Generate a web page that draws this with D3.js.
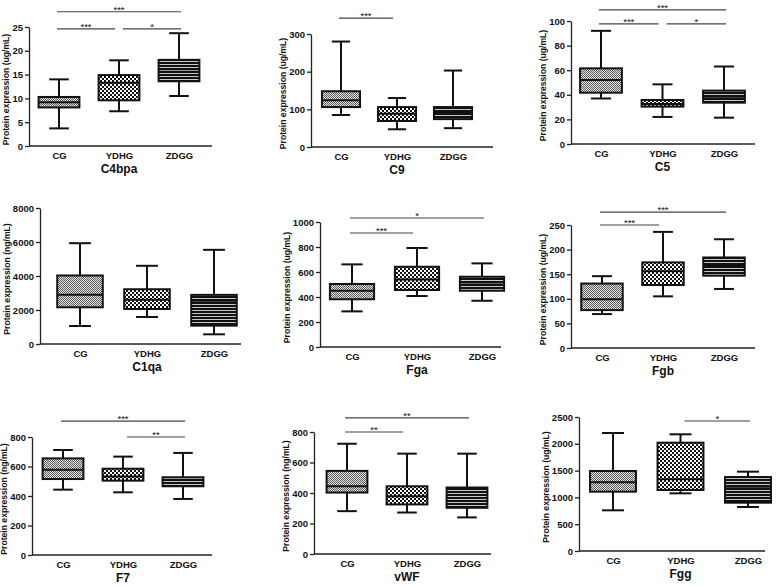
<!DOCTYPE html>
<html>
<head>
<meta charset="utf-8">
<script src="https://cdn.jsdelivr.net/npm/d3@7"></script>
<style>
  body { margin: 0; background: #fff; }
  svg { display: block; }
  text { font-family: "Liberation Sans", Arial, sans-serif; fill: #111; }
</style>
</head>
<body>
<svg id="fig" width="784" height="586"></svg>
<script>
// Groups and panels
const categories = ["CG", "YDHG", "ZDGG"];
const panelNames = ["C4bpa", "C9", "C5", "C1qa", "Fga", "Fgb", "F7", "vWF", "Fgg"];
const units = ["ug/mL", "ug/mL", "ug/mL", "ng/mL", "ug/mL", "ug/mL", "ng/mL", "ng/mL", "ug/mL"];

// y tick labels per panel
const yTicks = [
    [0, 5, 10, 15, 20, 25],
    [0, 100, 200, 300],
    [0, 20, 40, 60, 80, 100],
    [0, 2000, 4000, 6000, 8000],
    [0, 200, 400, 600, 800, 1000],
    [0, 50, 100, 150, 200, 250],
    [0, 200, 400, 600, 800],
    [0, 200, 400, 600, 800],
    [0, 500, 1000, 1500, 2000, 2500]
];

// box stats: [min, q1, median, q3, max] for CG, YDHG, ZDGG
const C4bpa = [[3.7, 8.1, 9.2, 10.3, 14.0], [7.3, 9.6, 13.3, 14.9, 18.0], [10.5, 13.6, 15.6, 18.1, 23.7]];
const C9 = [[85, 106, 124, 148, 280], [47, 69, 88, 106, 130], [50, 74, 90, 106, 203]];
const C5 = [[37, 41.7, 52, 61.5, 92], [22, 30.4, 32.5, 35.8, 48.5], [21.4, 33.6, 38.5, 43.4, 63]];
const C1qa = [[1060, 2160, 2890, 4030, 5930], [1590, 2060, 2600, 3220, 4600], [570, 1080, 2450, 2890, 5540]];
const Fga = [[285, 382, 450, 504, 661], [408, 456, 541, 642, 792], [370, 450, 501, 562, 669]];
const Fgb = [[69, 77, 99, 131, 146], [105, 128, 156, 174, 236], [120, 147, 167, 184, 221]];
const F7 = [[443, 515, 578, 655, 712], [425, 504, 533, 585, 667], [380, 466, 488, 527, 692]];
const vWF = [[281, 403, 444, 545, 723], [272, 325, 379, 444, 658], [240, 303, 368, 436, 658]];
const Fgg = [[759, 1107, 1281, 1493, 2201], [1076, 1138, 1337, 2021, 2177], [821, 901, 1200, 1380, 1480]];
const boxData = [C4bpa, C9, C5, C1qa, Fga, Fgb, F7, vWF, Fgg];

// significance bars: [from group, to group, stars, height in data units]
const sigBars = [
    [[0, 2, "***", 28.2], [0, 1, "***", 24.6], [1, 2, "*", 24.6]],
    [[0, 1, "***", 342]],
    [[0, 2, "***", 109], [0, 1, "***", 97.6], [1, 2, "*", 97.6]],
    [],
    [[0, 2, "*", 1032], [0, 1, "***", 912]],
    [[0, 2, "***", 276], [0, 1, "***", 250]],
    [[0, 2, "***", 908], [1, 2, "**", 800]],
    [[0, 2, "**", 892], [0, 1, "**", 800]],
    [[1, 2, "*", 2425]]
];

// where each panel sits on the page
const layout = [
    {ax: 29,  ae: 212, c0: 59,  c2: 179, y0: 146, yt: 27},
    {ax: 311, ae: 493, c0: 341, c2: 453, y0: 147, yt: 34},
    {ax: 571, ae: 755, c0: 601, c2: 724, y0: 144, yt: 21},
    {ax: 40,  ae: 241, c0: 80,  c2: 214, y0: 344, yt: 208},
    {ax: 320, ae: 501, c0: 352, c2: 482, y0: 347, yt: 222},
    {ax: 571, ae: 755, c0: 602, c2: 724, y0: 348, yt: 225},
    {ax: 32,  ae: 212, c0: 63,  c2: 183, y0: 555, yt: 437},
    {ax: 314, ae: 491, c0: 347, c2: 467, y0: 554, yt: 432},
    {ax: 579, ae: 765, c0: 613, c2: 748, y0: 551, yt: 417}
];

const svg = d3.select("#fig");
svg.append("rect").attr("width", 784).attr("height", 586).attr("fill", "#fff");

// Fill patterns for the three groups
const defs = svg.append("defs");

const pCG = defs.append("pattern").attr("id", "patCG")
    .attr("patternUnits", "userSpaceOnUse").attr("width", 2).attr("height", 2);
pCG.append("rect").attr("width", 2).attr("height", 2).attr("fill", "#e6e6e6");
pCG.append("rect").attr("x", 0).attr("y", 0).attr("width", 1).attr("height", 1).attr("fill", "#5a5a5a");
pCG.append("rect").attr("x", 1).attr("y", 1).attr("width", 1).attr("height", 1).attr("fill", "#5a5a5a");

const pYD = defs.append("pattern").attr("id", "patYD")
    .attr("patternUnits", "userSpaceOnUse").attr("width", 4).attr("height", 4);
pYD.append("rect").attr("width", 4).attr("height", 4).attr("fill", "#fff");
pYD.append("rect").attr("x", 0).attr("y", 0).attr("width", 2).attr("height", 2).attr("fill", "#111");
pYD.append("rect").attr("x", 2).attr("y", 2).attr("width", 2).attr("height", 2).attr("fill", "#111");

const pZD = defs.append("pattern").attr("id", "patZD")
    .attr("patternUnits", "userSpaceOnUse").attr("width", 4).attr("height", 3);
pZD.append("rect").attr("width", 4).attr("height", 3).attr("fill", "#111");
pZD.append("rect").attr("y", 1).attr("width", 4).attr("height", 1).attr("fill", "#c8c8c8");

const fills = ["url(#patCG)", "url(#patYD)", "url(#patZD)"];

function drawPanel(p) {
    const L = layout[p];
    const ticks = yTicks[p];
    const g = svg.append("g").attr("class", "panel");

    const y = d3.scaleLinear()
        .domain([0, ticks[ticks.length - 1]])
        .range([L.y0, L.yt]);
    const x = d3.scalePoint()
        .domain(categories)
        .range([L.c0, L.c2]);
    const step = (L.c2 - L.c0) / 2;
    const bw = step * 0.68;
    const cap = bw * 0.48;

    // y axis
    const yAxis = g.append("g")
        .attr("transform", `translate(${L.ax},0)`)
        .call(d3.axisLeft(y).tickValues(ticks).tickFormat(d3.format("d"))
            .tickSize(4).tickSizeOuter(0).tickPadding(2));
    yAxis.select(".domain").attr("stroke", "#222").attr("stroke-width", 1.3);
    yAxis.selectAll(".tick line").attr("stroke", "#222").attr("stroke-width", 1.3);
    yAxis.selectAll(".tick text")
        .style("font-size", "9.5px").style("font-weight", "bold")
        .style("font-family", '"Liberation Sans", Arial, sans-serif')
        .attr("fill", "#111");

    let maxW = 0;
    yAxis.selectAll(".tick text").each(function () {
        maxW = Math.max(maxW, this.getComputedTextLength());
    });

    // x axis line + category labels
    g.append("line")
        .attr("x1", L.ax).attr("x2", L.ae)
        .attr("y1", L.y0).attr("y2", L.y0)
        .attr("stroke", "#222").attr("stroke-width", 1.3);
    const xAxis = g.append("g")
        .attr("transform", `translate(0,${L.y0})`)
        .call(d3.axisBottom(x).tickSize(0).tickPadding(6));
    xAxis.select(".domain").remove();
    xAxis.selectAll(".tick text")
        .style("font-size", "9.5px").style("font-weight", "bold")
        .style("font-family", '"Liberation Sans", Arial, sans-serif')
        .attr("fill", "#111");

    // y label
    g.append("text")
        .attr("transform", `translate(${L.ax - maxW - 12},${(L.y0 + L.yt) / 2 + 3}) rotate(-90)`)
        .attr("text-anchor", "middle")
        .attr("dy", "0.35em")
        .style("font-size", "8.6px").style("font-weight", "bold")
        .text(`Protein expression (${units[p]})`);

    // panel title
    g.append("text")
        .attr("x", x(categories[1])).attr("y", L.y0 + 27)
        .attr("text-anchor", "middle")
        .style("font-size", "12px").style("font-weight", "bold")
        .text(panelNames[p]);

    // boxes
    boxData[p].forEach((s, i) => {
        const cx = x(categories[i]);
        const [mn, q1, md, q3, mx] = s;
        const bg = g.append("g");
        // whiskers
        bg.append("line").attr("x1", cx).attr("x2", cx).attr("y1", y(mx)).attr("y2", y(q3))
            .attr("stroke", "#111").attr("stroke-width", 2);
        bg.append("line").attr("x1", cx).attr("x2", cx).attr("y1", y(q1)).attr("y2", y(mn))
            .attr("stroke", "#111").attr("stroke-width", 2);
        bg.append("line").attr("x1", cx - cap / 2).attr("x2", cx + cap / 2).attr("y1", y(mx)).attr("y2", y(mx))
            .attr("stroke", "#111").attr("stroke-width", 2);
        bg.append("line").attr("x1", cx - cap / 2).attr("x2", cx + cap / 2).attr("y1", y(mn)).attr("y2", y(mn))
            .attr("stroke", "#111").attr("stroke-width", 2);
        // box
        bg.append("rect")
            .attr("x", cx - bw / 2).attr("y", y(q3))
            .attr("width", bw).attr("height", y(q1) - y(q3))
            .attr("fill", fills[i])
            .attr("stroke", "#111").attr("stroke-width", 2);
        // median
        bg.append("line").attr("x1", cx - bw / 2).attr("x2", cx + bw / 2).attr("y1", y(md)).attr("y2", y(md))
            .attr("stroke", "#111").attr("stroke-width", 2);
    });

    // significance bars
    sigBars[p].forEach(b => {
        const [i, j, stars, v] = b;
        const x1 = x(categories[i]) + (i > 0 ? 4 : -2);
        const x2 = x(categories[j]) + (j < 2 ? -4 : 2);
        const yy = y(v);
        g.append("line").attr("x1", x1).attr("x2", x2).attr("y1", yy).attr("y2", yy)
            .attr("stroke", "#444").attr("stroke-width", 1.2);
        g.append("text")
            .attr("x", (x1 + x2) / 2).attr("y", yy + 1)
            .attr("text-anchor", "middle")
            .style("font-size", "9.5px")
            .attr("fill", "#333")
            .text(stars);
    });
}

for (let p = 0; p < panelNames.length; p++) drawPanel(p);
</script>
</body>
</html>
